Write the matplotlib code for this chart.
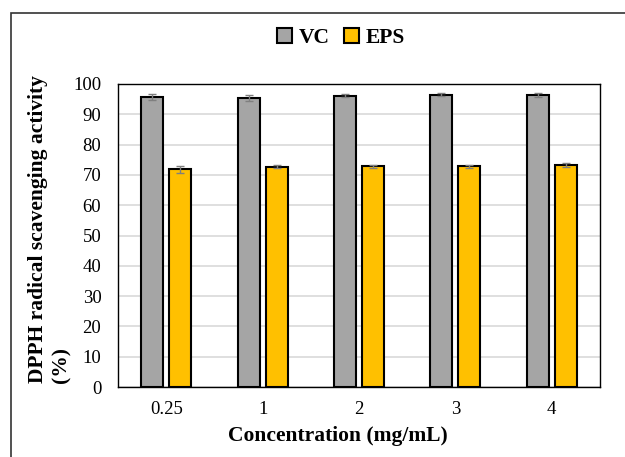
import numpy as np
import matplotlib.pyplot as plt
from matplotlib.patches import Rectangle

categories = ['0.25', '1', '2', '3', '4']
vc = [95.6, 95.5, 96.2, 96.4, 96.4]
vc_err = [1.0, 1.0, 0.5, 0.5, 0.6]
eps = [71.8, 72.7, 72.8, 72.8, 73.3]
eps_err = [1.3, 0.5, 0.5, 0.5, 0.7]

plt.rcParams['font.family'] = 'Liberation Serif'

fig = plt.figure(figsize=(6.25, 4.57), dpi=100)
ax = fig.add_axes([118/625, 1 - 387/457, 482/625, 303/457])

x = np.arange(len(categories))
w = 0.228
off = 0.145
err_kw = dict(ecolor='#7f7f7f', elinewidth=1.0, capsize=3, capthick=1.0)
ax.bar(x - off, vc, w, yerr=vc_err, color='#a5a5a5', edgecolor='black',
       linewidth=1.5, label='VC', error_kw=err_kw, zorder=3)
ax.bar(x + off, eps, w, yerr=eps_err, color='#ffc000', edgecolor='black',
       linewidth=1.5, label='EPS', error_kw=err_kw, zorder=3)

ax.set_xlim(-0.5, len(categories) - 0.5)
ax.set_ylim(0, 100)
ax.set_yticks(range(0, 101, 10))
ax.set_xticks(x)
ax.set_xticklabels(categories)
ax.tick_params(length=0, labelsize=13.5)
ax.tick_params(axis='y', pad=12)
ax.tick_params(axis='x', pad=10)
ax.yaxis.grid(True, color='#d9d9d9', linewidth=1.2, zorder=0)
ax.set_axisbelow(True)
for s in ax.spines.values():
    s.set_linewidth(1.0)

ax.set_xlabel('Concentration (mg/mL)', fontsize=15.5, fontweight='bold')
ax.xaxis.set_label_coords((338 - 118) / 482, -(426 - 387) / 303)
ax.set_ylabel('DPPH radical scavenging activity\n(%)', fontsize=15.5,
              fontweight='bold', multialignment='left')
ax.yaxis.set_label_coords((71 - 118) / 482, (387 - 229) / 303)

fig.legend(loc='center', bbox_to_anchor=(341/625, 1 - 38/457), ncol=2, frameon=False,
           prop={'weight': 'bold', 'size': 15.5}, handlelength=0.7,
           handleheight=0.7, handletextpad=0.3, columnspacing=0.7)

frame = Rectangle((11/625, -0.1), 1.2, 1.1 - 13/457, transform=fig.transFigure,
                  fill=False, edgecolor='#333333', linewidth=1.2)
fig.patches.append(frame)

fig.savefig('out.png', dpi=100)
